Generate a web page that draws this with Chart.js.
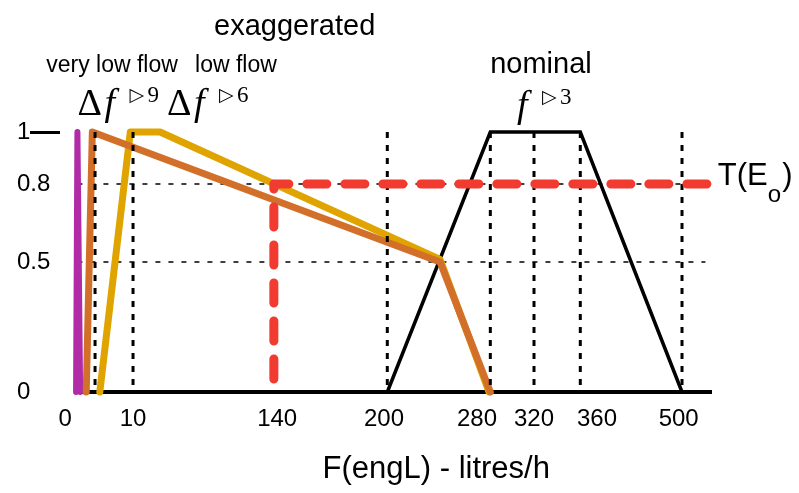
<!DOCTYPE html>
<html>
<head>
<meta charset="utf-8">
<title>Flow membership functions</title>
<script src="https://cdn.jsdelivr.net/npm/chart.js@4.4.0/dist/chart.umd.min.js"></script>
<style>
  html, body { margin: 0; padding: 0; background: #fff; }
  #wrap { width: 799px; height: 493px; }
</style>
</head>
<body>
<div id="wrap"><canvas id="flowChart"></canvas></div>
<script>
// tick labels, litres/h and membership degree
const xTickValues = [0, 10, 140, 200, 280, 320, 360, 500];
const yTickValues = [0, 0.5, 0.8, 1];
const xTitle = 'F(engL) - litres/h';

// membership curves as [litres/h, degree]
const veryLowFlow = [[1.6, 0], [1.8, 1], [2.2, 0]];
const lowFlowOrange = [[3.1, 0], [4.0, 1], [241, 0.5], [280, 0]];
const lowFlowYellow = [[5.1, 0], [9.6, 1], [35, 1], [241, 0.51], [279, 0]];
const nominalFlow = [[200, 0], [280, 1], [360, 1], [500, 0]];
const thresholdTE = [[140, 0.05], [140, 0.8], [538, 0.8]];

// reference lines
const dottedAt = [4.4, 10, 200, 280, 320, 360, 500];
const dashedAt = [0.8, 0.5];
const dashedRange = [1.8, 532];
const baseRange = [1.6, 541];

// the sketch is not drawn to scale, so the x axis is stretched piecewise
const warpValues = [-0.7, 0, 10, 140, 200, 280, 320, 360, 500, 541];
const warpSpots = [0, 0.008, 0.112, 0.328, 0.502, 0.66, 0.727, 0.798, 0.954, 1];
// hand placed labels sit a little off their lines (in spaces, + = right)
const xTickNudge = { 140: 1, 200: -1, 280: -4, 360: 5, 500: -1 };

function warp(v, from, to) {
  let i = 1;
  while (i < from.length - 1 && v > from[i]) i++;
  const t = (v - from[i - 1]) / (from[i] - from[i - 1]);
  return to[i - 1] + t * (to[i] - to[i - 1]);
}

class WarpScale extends Chart.LinearScale {
  getPixelForValue(value) {
    if (value === null || value === undefined) return NaN;
    return this.getPixelForDecimal(warp(value, warpValues, warpSpots));
  }
  getValueForPixel(pixel) {
    return warp(this.getDecimalForPixel(pixel), warpSpots, warpValues);
  }
}
WarpScale.id = 'warp';
WarpScale.defaults = Chart.LinearScale.defaults;
Chart.register(WarpScale);

const sans = "'Liberation Sans', Arial, sans-serif";
const serif = "'Liberation Serif', 'Times New Roman', serif";

const toPts = (arr) => arr.map(([x, y]) => ({ x, y }));

function lineSet(data, color, width, extra) {
  return Object.assign({
    data: toPts(data),
    borderColor: color,
    borderWidth: width,
    pointRadius: 0,
    fill: false,
    tension: 0,
    clip: false,
    borderJoinStyle: 'round',
    borderCapStyle: 'round',
  }, extra || {});
}

// first dataset is painted last (on top)
const datasets = [];
datasets.push(lineSet(thresholdTE, '#f23b30', 9, { borderDash: [20, 18] }));
dottedAt.forEach((v) => {
  datasets.push(lineSet([[v, 1], [v, 0]], '#000', 3, { borderDash: [6, 7], borderCapStyle: 'butt' }));
});
datasets.push(lineSet(lowFlowOrange, '#d2702a', 7));
datasets.push(lineSet(lowFlowYellow, '#e0a400', 7));
datasets.push(lineSet(veryLowFlow, '#b12aa6', 6));
datasets.push(lineSet(nominalFlow, '#000', 3.5, { borderJoinStyle: 'miter', borderCapStyle: 'butt' }));
datasets.push(lineSet([[baseRange[0], 0], [baseRange[1], 0]], '#000', 4, { borderCapStyle: 'butt' }));
dashedAt.forEach((v) => {
  datasets.push(lineSet([[dashedRange[0], v], [dashedRange[1], v]], '#000', 1.5, { borderDash: [5, 8], borderCapStyle: 'butt' }));
});

// text written round the sketch
const notes = [
  { text: 'exaggerated', x: 151, y: 1.373, size: 29 },
  { text: 'very low flow', x: 6.9, y: 1.231, size: 23 },
  { text: 'low flow', x: 105, y: 1.231, size: 23 },
  { text: 'nominal', x: 326, y: 1.227, size: 29 },
  { text: xTitle, x: 238, y: -0.33, size: 31 },
];
const mathNotes = [
  { delta: true, sup: '9', x: 1.8, y: 1.065 },
  { delta: true, sup: '6', x: 41.3, y: 1.065 },
  { delta: false, sup: '3', x: 304.5, y: 1.058 },
];

const annotate = {
  id: 'annotate',
  afterDraw(chart) {
    const { ctx } = chart;
    const xs = chart.scales.x;
    const ys = chart.scales.y;
    ctx.save();
    ctx.fillStyle = '#000';
    ctx.textBaseline = 'alphabetic';

    notes.forEach((n) => {
      ctx.font = n.size + 'px ' + sans;
      ctx.textAlign = 'center';
      ctx.fillText(n.text, xs.getPixelForValue(n.x), ys.getPixelForValue(n.y));
    });

    ctx.textAlign = 'left';
    mathNotes.forEach((m) => {
      let px = xs.getPixelForValue(m.x);
      const py = ys.getPixelForValue(m.y);
      if (m.delta) {
        ctx.font = '38px ' + serif;
        ctx.fillText('\u0394', px, py);
        px += 27;
      }
      ctx.font = 'italic 38px ' + serif;
      ctx.fillText('f', px, py);
      ctx.font = "19px 'DejaVu Sans'";
      ctx.fillText('\u25B7', px + 25, py - 14);
      ctx.font = '23px ' + serif;
      ctx.fillText(m.sup, px + 43, py - 13);
    });

    // T(E_o) at the end of the threshold line
    let tx = xs.getPixelForValue(549);
    const ty = ys.getPixelForValue(0.796);
    ctx.font = '31px ' + sans;
    ctx.fillText('T(E', tx, ty);
    tx += ctx.measureText('T(E').width;
    ctx.font = '24px ' + sans;
    ctx.fillText('o', tx, ty + 17);
    tx += ctx.measureText('o').width + 1;
    ctx.font = '31px ' + sans;
    ctx.fillText(')', tx, ty);
    ctx.restore();
  },
};

function nudged(v) {
  const n = xTickNudge[v] || 0;
  const pad = ' '.repeat(Math.abs(n));
  return n > 0 ? pad + v : String(v) + pad;
}

new Chart(document.getElementById('flowChart'), {
  type: 'line',
  data: { datasets },
  plugins: [annotate],
  options: {
    responsive: true,
    maintainAspectRatio: false,
    animation: false,
    layout: { padding: { top: 132, left: 17, right: 87, bottom: 0 } },
    plugins: {
      legend: { display: false },
      tooltip: { enabled: false },
    },
    scales: {
      x: {
        type: 'warp',
        min: -0.7,
        max: 541,
        afterBuildTicks: (s) => { s.ticks = xTickValues.map((v) => ({ value: v })); },
        afterFit: (s) => { s.height = 101; },
        grid: { display: false, drawTicks: false },
        border: { display: false },
        ticks: {
          autoSkip: false,
          maxRotation: 0,
          padding: 13,
          color: '#000',
          font: { family: sans, size: 24 },
          callback: (v) => nudged(v),
        },
      },
      y: {
        min: 0,
        max: 1,
        afterBuildTicks: (s) => { s.ticks = yTickValues.map((v) => ({ value: v })); },
        afterFit: (s) => { s.width = 43; },
        grid: {
          drawOnChartArea: false,
          drawTicks: true,
          tickLength: 30,
          tickWidth: 3,
          tickColor: (c) => (c.tick && c.tick.value === 1 ? '#000' : 'rgba(0,0,0,0)'),
        },
        border: { display: false },
        ticks: {
          crossAlign: 'far',
          padding: 0,
          color: '#000',
          font: { family: sans, size: 24 },
          callback: (v) => String(v),
        },
      },
    },
  },
});
</script>
</body>
</html>
